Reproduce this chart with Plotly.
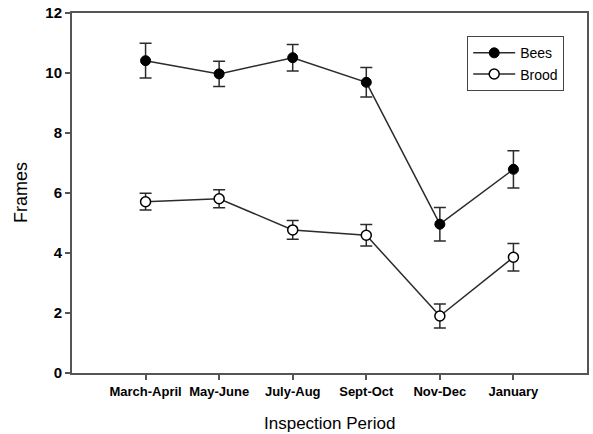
import plotly.graph_objects as go

periods = ["March-April", "May-June", "July-Aug", "Sept-Oct", "Nov-Dec", "January"]
bees = [10.41, 9.97, 10.51, 9.69, 4.96, 6.79]
bees_err = [0.58, 0.42, 0.44, 0.49, 0.56, 0.62]
brood = [5.71, 5.81, 4.77, 4.59, 1.90, 3.86]
brood_err = [0.28, 0.30, 0.31, 0.36, 0.40, 0.46]

line_col = "#2b2b2b"
axis_col = "#555555"
fam = "Liberation Sans, Arial, sans-serif"

fig = go.Figure()
fig.add_trace(go.Scatter(
    x=periods, y=bees, name="Bees", mode="lines+markers",
    line=dict(color=line_col, width=1.5),
    marker=dict(symbol="circle", size=10, color="black", line=dict(color="black", width=1)),
    error_y=dict(type="data", array=bees_err, visible=True, color=line_col, thickness=1.5, width=6),
))
fig.add_trace(go.Scatter(
    x=periods, y=brood, name="Brood", mode="lines+markers",
    line=dict(color=line_col, width=1.5),
    marker=dict(symbol="circle", size=10, color="white", line=dict(color="black", width=1.5)),
    error_y=dict(type="data", array=brood_err, visible=True, color=line_col, thickness=1.5, width=6),
))

fig.update_layout(
    width=593, height=434,
    margin=dict(l=72, r=6, t=13, b=61),
    paper_bgcolor="white", plot_bgcolor="white",
    font=dict(family=fam, color="black"),
    showlegend=True,
    legend=dict(
        x=0.767, y=0.936, xanchor="left", yanchor="top",
        bordercolor="#444444", borderwidth=1.2, bgcolor="white",
        font=dict(size=14, family=fam),
        itemwidth=42, tracegroupgap=0, entrywidth=100,
    ),
    xaxis=dict(
        type="category", range=[-1, 6], automargin=False,
        showline=True, linecolor=axis_col, linewidth=2, mirror=True,
        ticks="outside", ticklen=5, tickcolor=axis_col, tickwidth=1.5,
        showgrid=False, zeroline=False,
        tickfont=dict(size=13, family=fam, weight="bold"),
    ),
    yaxis=dict(
        range=[0, 12], tickvals=[0, 2, 4, 6, 8, 10, 12], automargin=False,
        showline=True, linecolor=axis_col, linewidth=2, mirror=True,
        ticks="outside", ticklen=5, tickcolor=axis_col, tickwidth=1.5,
        showgrid=False, zeroline=False,
        tickfont=dict(size=15, family=fam, weight="bold"),
    ),
    annotations=[
        dict(text="Inspection Period", xref="paper", yref="paper", x=0.5, y=0,
             xanchor="center", yanchor="middle", yshift=-50, showarrow=False,
             font=dict(size=17, family=fam)),
        dict(text="Frames", xref="paper", yref="paper", x=0, y=0.5, textangle=-90,
             xanchor="center", yanchor="middle", xshift=-51, showarrow=False,
             font=dict(size=18, family=fam)),
    ],
)

fig.write_html("out.html")
